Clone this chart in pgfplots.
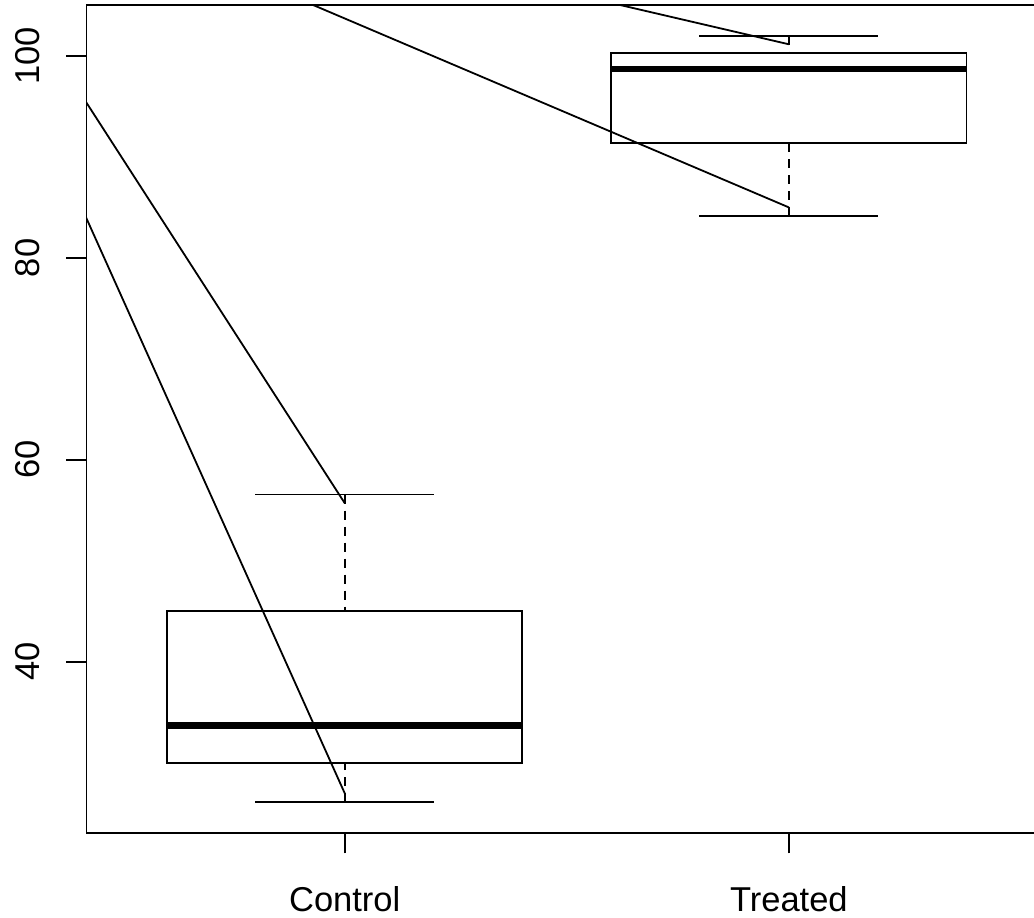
\documentclass[border=0pt]{standalone}
\usepackage{fontspec}
\setmainfont{Liberation Sans}
\usepackage{pgfplots}
\pgfplotsset{compat=1.18}
\usepgfplotslibrary{statistics}
\begin{document}
\begin{tikzpicture}
\begin{axis}[
  name=ax,
  at={(0,0)}, anchor=south west,
  scale only axis,
  width=473.75pt, height=414.15pt,
  xmin=0.4186, xmax=2.552,
  ymin=22.99, ymax=105.05,
  enlargelimits=false,
  axis line style={draw=none},
  xtick={1,2}, xticklabels={Control,Treated},
  ytick={40,60,80,100},
  tick align=outside,
  xtick pos=bottom, ytick pos=left,
  major tick length=10pt,
  tick style={black, line width=0.9pt},
  /pgf/number format/assume math mode=true,
  tick label style={font=\fontsize{17.25}{20}\selectfont},
  yticklabel style={xshift=-13pt, rotate=90, anchor=south, inner sep=0pt},
  xticklabel style={anchor=base, inner sep=0pt, yshift=-28.85pt},
  boxplot/draw direction=y,
  boxplot/box extend=0.8,
  boxplot/whisker extend=0.403,
  boxplot/every box/.style={draw=black, line width=0.9pt},
  boxplot/every median/.style={draw=black, line width=3.2pt},
  boxplot/draw/lower whisker/.code={
    \draw[black, line width=0.9pt, dash pattern=on 4.6pt off 3.4pt]
      (boxplot box cs:\pgfplotsboxplotvalue{lower whisker},0.5) --
      (boxplot box cs:\pgfplotsboxplotvalue{lower quartile},0.5);
    \draw[black, line width=0.9pt]
      (boxplot whisker cs:\pgfplotsboxplotvalue{lower whisker},0) --
      (boxplot whisker cs:\pgfplotsboxplotvalue{lower whisker},1);
  },
  boxplot/draw/upper whisker/.code={
    \draw[black, line width=0.9pt, dash pattern=on 4.6pt off 3.4pt]
      (boxplot box cs:\pgfplotsboxplotvalue{upper whisker},0.5) --
      (boxplot box cs:\pgfplotsboxplotvalue{upper quartile},0.5);
    \draw[black, line width=0.9pt]
      (boxplot whisker cs:\pgfplotsboxplotvalue{upper whisker},0) --
      (boxplot whisker cs:\pgfplotsboxplotvalue{upper whisker},1);
  },
]
% Control
\addplot[black, line width=0.9pt, boxplot prepared={
  draw position=1,
  lower whisker=26.07, lower quartile=29.99, median=33.66,
  upper quartile=45.02, upper whisker=56.55}] coordinates {};
% Treated
\addplot[black, line width=0.9pt, boxplot prepared={
  draw position=2,
  lower whisker=84.17, lower quartile=91.35, median=98.71,
  upper quartile=100.27, upper whisker=102.01}] coordinates {};
% overlaid segments
\addplot[black, line width=0.9pt] coordinates {(0.3,95.52) (1,26.96)};
\addplot[black, line width=0.9pt] coordinates {(0.3,103.46) (1,55.70)};
\addplot[black, line width=0.9pt] coordinates {(0.9,105.59) (2,85.00)};
\addplot[black, line width=0.9pt] coordinates {(1.5,106.28) (2,101.16)};
\end{axis}
\draw[black, line width=0.9pt] (ax.south east) -- (ax.south west) -- (ax.north west) -- (ax.north east);
\pgfresetboundingbox
\path[use as bounding box] (-43.25pt,-42pt) rectangle (473.75pt,416.65pt);
\end{tikzpicture}
\end{document}
